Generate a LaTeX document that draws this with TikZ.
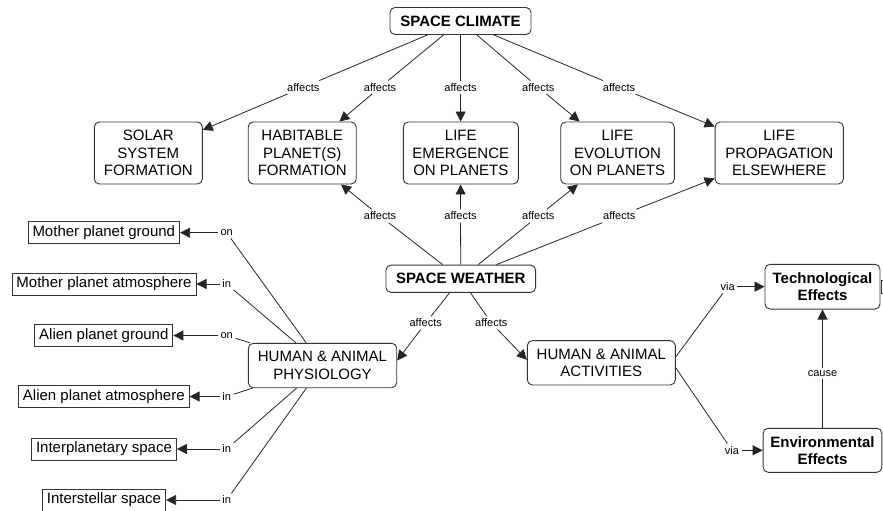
\documentclass[tikz,border=0pt]{standalone}
\usepackage{fontspec}
\setmainfont{Liberation Sans}
\usetikzlibrary{arrows.meta,calc}
\begin{document}
\begin{tikzpicture}[x=1pt,y=-1pt,
 concept/.style={draw=black!80, line width=0.9pt, rounded corners=5pt, align=center, font=\fontsize{15}{17.3}\selectfont, inner sep=0pt},
 bigbox/.style={concept, minimum height=62pt},
 boldbox/.style={concept, font=\bfseries\fontsize{15}{17.3}\selectfont},
 place/.style={draw=black!80, line width=0.9pt, font=\fontsize{15}{17}\selectfont, inner xsep=4.5pt, inner ysep=0pt, minimum height=22pt},
 lbl/.style={font=\fontsize{11}{12}\selectfont, inner sep=2.5pt},
 link/.style={line width=0.8pt, draw=black!85},
 arr/.style={link, -{Triangle[length=10pt,width=10pt]}},
]
\useasboundingbox (0,0) rectangle (883,511);
\clip (0,0) rectangle (883,511);
% concepts
\node[boldbox, minimum width=141pt, minimum height=27pt] (sc) at (460.5,21) {SPACE CLIMATE};
\node[bigbox, minimum width=108pt] (solar) at (148.3,153) {SOLAR\\SYSTEM\\FORMATION};
\node[bigbox, minimum width=108pt] (hab) at (302.2,153) {HABITABLE\\PLANET(S)\\FORMATION};
\node[bigbox, minimum width=115pt] (emer) at (460.8,153) {LIFE\\EMERGENCE\\ON PLANETS};
\node[bigbox, minimum width=113.6pt] (evol) at (617.5,153) {LIFE\\EVOLUTION\\ON PLANETS};
\node[bigbox, minimum width=128.3pt] (prop) at (779.2,153) {LIFE\\PROPAGATION\\ELSEWHERE};
\node[boldbox, minimum width=149.7pt, minimum height=27.3pt] (sw) at (460.8,278.7) {SPACE WEATHER};
\node[concept, minimum width=148.4pt, minimum height=44.4pt] (phys) at (322.5,365.5) {HUMAN \& ANIMAL\\PHYSIOLOGY};
\node[concept, minimum width=148pt, minimum height=44.3pt] (act) at (601.3,362.8) {HUMAN \& ANIMAL\\ACTIVITIES};
\node[boldbox, minimum width=115pt, minimum height=44.7pt] (tech) at (822.5,286.7) {Technological\\Effects};
\node[boldbox, minimum width=118.7pt, minimum height=44pt] (env) at (822.5,450.3) {Environmental\\Effects};
\node[draw=black!80, line width=0.9pt, minimum width=14pt, minimum height=13pt, inner sep=0pt] (cut) at (888,286.5) {};
% places
\node[place] (mpg) at (103.8,232.7) {Mother planet ground};
\node[place] (mpa) at (104,284) {Mother planet atmosphere};
\node[place] (apg) at (103.8,335.5) {Alien planet ground};
\node[place] (apa) at (103.8,396.5) {Alien planet atmosphere};
\node[place] (ips) at (104,449) {Interplanetary space};
\node[place] (iss) at (104,500) {Interstellar space};
% linking phrases
\node[lbl] (a1) at (303.3,87.3) {affects};
\node[lbl] (a2) at (380,87.3) {affects};
\node[lbl] (a3) at (460.5,87.3) {affects};
\node[lbl] (a4) at (538.3,87.3) {affects};
\node[lbl] (a5) at (619,87.3) {affects};
\node[lbl] (b1) at (380,216) {affects};
\node[lbl] (b2) at (460.5,216) {affects};
\node[lbl] (b3) at (538.3,216) {affects};
\node[lbl] (b4) at (619.3,216) {affects};
\node[lbl] (c1) at (425.7,323) {affects};
\node[lbl] (c2) at (491.3,323) {affects};
\node[lbl] (l1) at (226.7,232.7) {on};
\node[lbl] (l2) at (226.7,284) {in};
\node[lbl] (l3) at (226.7,335.5) {on};
\node[lbl] (l4) at (226.7,396.5) {in};
\node[lbl] (l5) at (226.7,449) {in};
\node[lbl] (l6) at (226.7,500) {in};
\node[lbl] (v1) at (727.7,286.7) {via};
\node[lbl] (v2) at (732,450.3) {via};
\node[lbl] (cause) at (822.5,373.7) {cause};
% connectors
\foreach \l/\t in {a1/solar,a2/hab,a3/emer,a4/evol,a5/prop}{
  \draw[link] (sc) -- (\l);
  \draw[arr] (\l) -- (\t);
}
\foreach \l/\t in {b1/hab,b2/emer,b3/evol,b4/prop}{
  \draw[link] (sw) -- (\l);
  \draw[arr] (\l) -- (\t);
}
\draw[link] (sw) -- (c1);
\draw[arr] (c1) -- ([yshift=5pt]phys.east);
\draw[link] (sw) -- (c2);
\draw[arr] (c2) -- ([yshift=3pt]act.west);
\foreach \l/\t in {l1/mpg,l2/mpa,l3/apg,l4/apa,l5/ips,l6/iss}{
  \draw[link] (phys) -- (\l);
  \draw[arr] (\l) -- (\t);
}
\draw[link] ([yshift=6pt]act.east) -- (v1);
\draw[arr] (v1) -- (tech);
\draw[link] ([yshift=-5pt]act.east) -- (v2);
\draw[arr] (v2) -- (env);
\draw[link] (env) -- (cause);
\draw[arr] (cause) -- (tech);
\end{tikzpicture}
\end{document}
